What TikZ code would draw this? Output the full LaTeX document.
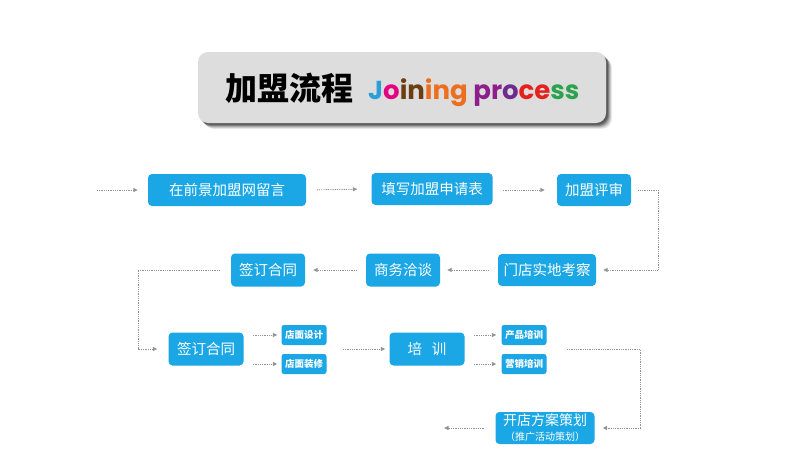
\documentclass[tikz,border=0pt]{standalone}
\usepackage{fontspec}
\setmainfont{Noto Sans CJK SC}
\newfontfamily\cjk{Noto Sans CJK SC}
\newfontfamily\pop{Poppins}
\usetikzlibrary{arrows.meta,calc}
\definecolor{nodeblue}{RGB}{27,167,229}
\definecolor{lgrey}{RGB}{221,221,221}
\definecolor{cJ}{RGB}{42,159,216}
\definecolor{cO}{RGB}{228,0,127}
\definecolor{cBr}{RGB}{107,61,16}
\definecolor{cOr}{RGB}{236,110,30}
\definecolor{cPu}{RGB}{142,30,140}
\definecolor{cPu2}{RGB}{111,42,144}
\definecolor{cRe}{RGB}{229,33,29}
\definecolor{cGr}{RGB}{43,162,76}
\begin{document}
\begin{tikzpicture}[x=1pt,y=-1pt,
  box/.style={rectangle,rounded corners=4pt,fill=nodeblue,text=white,inner sep=0pt,font=\cjk\fontsize{14.5}{16}\selectfont},
  sbox/.style={rectangle,rounded corners=2.5pt,fill=nodeblue,text=white,inner sep=0pt,minimum width=45pt,minimum height=20pt,font=\cjk\bfseries\fontsize{9.5}{11}\selectfont},
  conn/.style={draw=gray!85,line width=0.9pt,dash pattern=on 0.9pt off 0.9pt,-{Triangle[length=4.5pt,width=4pt,fill=gray!85]}},
]
\useasboundingbox (0,0) rectangle (800,458);
\fill[white] (0,0) rectangle (800,458);
% title
\foreach \i/\o in {6/8,5/12,4/16,3/22,2/30}{
  \fill[black,opacity=\o/100,rounded corners=10pt] (198+\i,52+\i) rectangle (606+\i,123+\i);
}
\fill[lgrey,rounded corners=10pt] (198,52) rectangle (606,123);
\node[font=\cjk\bfseries\fontsize{32}{34}\selectfont,anchor=center,inner sep=0pt] (t1) at (289,88) {加盟流程};
\node[font=\pop\bfseries\fontsize{26}{30}\selectfont,anchor=base west,inner sep=0pt] (t2) at (368,99) {\textcolor{cJ}{J}\textcolor{cO}{o}\textcolor{cBr}{in}\textcolor{cOr}{ing} \textcolor{cPu}{pr}\textcolor{cPu2}{o}\textcolor{cRe}{ce}\textcolor{cGr}{ss}};
% nodes
\node[box,minimum width=158pt,minimum height=32pt] (A) at (227,190) {在前景加盟网留言};
\node[box,minimum width=121pt,minimum height=32pt] (B) at (432,189) {填写加盟申请表};
\node[box,minimum width=74pt,minimum height=32pt] (C) at (594,190) {加盟评审};
\node[box,minimum width=98pt,minimum height=32pt] (D) at (547,270) {门店实地考察};
\node[box,minimum width=74pt,minimum height=33pt] (E) at (403,270) {商务洽谈};
\node[box,minimum width=74pt,minimum height=33pt] (F) at (268,270) {签订合同};
\node[box,minimum width=75pt,minimum height=33pt] (G) at (206,349) {签订合同};
\node[sbox] (H1) at (304,335) {店面设计};
\node[sbox] (H2) at (304,364) {店面装修};
\node[box,minimum width=75pt,minimum height=33pt] (I) at (427,349) {培\hspace{10pt}训};
\node[sbox] (J1) at (524,335) {产品培训};
\node[sbox] (J2) at (524,364) {营销培训};
\node[box,minimum width=99pt,minimum height=32pt,align=center] (K) at (545,428) {\fontsize{14}{15}\selectfont 开店方案策划\\[-1pt]{\fontsize{10}{11}\selectfont （推广活动策划）}};
% coordinates
\coordinate (s0) at (97,190);
\coordinate (s1) at (343,349);
\coordinate (s2) at (567,349);
\coordinate (e0) at (444,428);
% connectors
\draw[conn,shorten >=10pt] (s0) -- (A.west);
\draw[conn,shorten <=11pt,shorten >=14pt] (A.east) -- (B.west);
\draw[conn,shorten <=10pt,shorten >=12pt] (B.east |- C) -- (C.west);
\draw[conn,shorten <=7pt,shorten >=7pt] (C.east) -- ++(27,0) |- (D.east);
\draw[conn,shorten <=9pt,shorten >=7pt] (D.west) -- (E.east);
\draw[conn,shorten <=9pt,shorten >=8pt] (E.west) -- (F.east);
\draw[conn,shorten <=11pt,shorten >=11pt] (F.west) -- (138,270) |- (G.west);
\draw[conn,shorten <=9pt,shorten >=4pt] (G.east |- H1) -- (H1.west);
\draw[conn,shorten <=9pt,shorten >=4pt] (G.east |- H2) -- (H2.west);
\draw[conn,shorten >=4pt] (s1) -- (I.west);
\draw[conn,shorten <=9pt,shorten >=5pt] (I.east |- J1) -- (J1.west);
\draw[conn,shorten <=9pt,shorten >=5pt] (I.east |- J2) -- (J2.west);
\draw[conn,shorten >=8pt] (s2) -- (640,349) |- (K.east);
\draw[conn,shorten <=11pt] (K.west) -- (e0);
\end{tikzpicture}
\end{document}
